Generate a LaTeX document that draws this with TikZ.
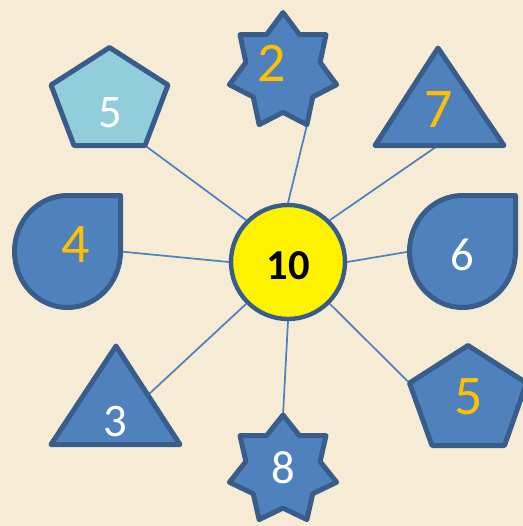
\documentclass[tikz,border=0pt]{standalone}
\usepackage{fontspec}
\setmainfont{Carlito}
\definecolor{bgbeige}{RGB}{246,236,214}
\definecolor{shapeblue}{RGB}{79,129,189}
\definecolor{edgeblue}{RGB}{56,93,138}
\definecolor{paleblue}{RGB}{146,205,220}
\definecolor{numgold}{RGB}{255,192,0}

% seven point star: centre x, centre y, x radius, y radius
\newcommand\sevenstar[4]{%
  \draw[blob] plot[samples at={0,...,13},variable=\k]
    ({#1+#3*(1-0.308*mod(\k,2))*sin(\k*360/14)},{#2-#4*(1-0.308*mod(\k,2))*cos(\k*360/14)}) -- cycle;}

\begin{document}
\begin{tikzpicture}[x=0.75pt,y=-0.75pt,line join=round,
  blob/.style={fill=shapeblue,draw=edgeblue,line width=3.75pt},
  spoke/.style={draw=shapeblue,line width=1.3pt},
  goldnum/.style={text=numgold,inner sep=0pt,font=\fontsize{42}{42}\selectfont},
  whitenum/.style={text=white,inner sep=0pt,font=\fontsize{35}{35}\selectfont}]
  \useasboundingbox (0,0) rectangle (523,526);
  \fill[bgbeige] (0,0) rectangle (523,526);
  \clip (0,0) rectangle (523,526);
  % attach points on the shapes
  \coordinate (pentA) at (145,145.5);
  \coordinate (starA) at (307,125);
  \coordinate (triA) at (438,145.5);
  \coordinate (dropA) at (120.5,251.5);
  \coordinate (dropB) at (409.5,251.5);
  \coordinate (triB) at (148,395);
  \coordinate (starB) at (283,415.5);
  \coordinate (pentB) at (409.5,383);
  % centre
  \node[circle,fill=yellow,draw=edgeblue,line width=3.3pt,minimum size=85.5pt,inner sep=0pt] (hub) at (288,262) {};
  \draw[spoke] (hub.north west) -- (pentA);
  \draw[spoke] (hub.north) -- (starA);
  \draw[spoke] (hub.north east) -- (triA);
  \draw[spoke] (hub.west) -- (dropA);
  \draw[spoke] (hub.east) -- (dropB);
  \draw[spoke] (hub.south west) -- (triB);
  \draw[spoke] (hub.south) -- (starB);
  \draw[spoke] (hub.south east) -- (pentB);
  % outer shapes
  \draw[blob,fill=paleblue] (109.5,47.5) -- (168,85) -- (145,145.5) -- (74,145.5) -- (51,85) -- cycle;
  \sevenstar{283}{71.5}{55}{59}
  \draw[blob] (438,48) -- (504,145.5) -- (375,145.5) -- cycle;
  \draw[blob] (67.5,195.5) -- (120.5,195.5) -- (120.5,251.5) arc[start angle=0,end angle=270,x radius=53,y radius=56] -- cycle;
  \draw[blob] (462.5,195.5) -- (515.5,195.5) -- (515.5,251.5) arc[start angle=0,end angle=270,x radius=53,y radius=56] -- cycle;
  \draw[blob] (116,346) -- (180,444.5) -- (51,444.5) -- cycle;
  \sevenstar{283}{470}{55}{55}
  \draw[blob] (468,345.5) -- (526.5,383) -- (504.5,445.5) -- (432,445.5) -- (409.5,383) -- cycle;
  % numbers
  \node[font=\fontsize{32}{32}\selectfont\bfseries,inner sep=0pt] (ten) at (288,266) {10};
  \node[whitenum] (n5a) at (110,113) {5};
  \node[goldnum] (n2) at (272,63) {2};
  \node[goldnum] (n7) at (439,110) {7};
  \node[goldnum] (n4) at (76,245) {4};
  \node[whitenum] (n6) at (462,255) {6};
  \node[whitenum] (n3) at (115,422) {3};
  \node[whitenum] (n8) at (283,468) {8};
  \node[goldnum] (n5b) at (469,397) {5};
\end{tikzpicture}
\end{document}
